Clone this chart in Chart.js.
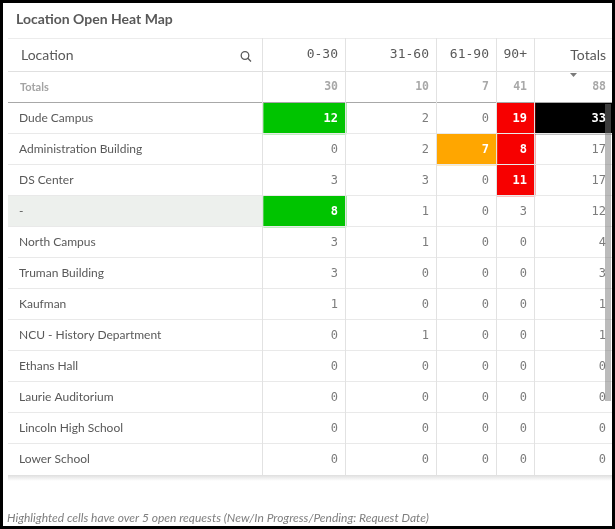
<!DOCTYPE html>
<html lang="en">
<head>
  <meta charset="UTF-8">
  <title>Location Open Heat Map</title>
  <script src="https://cdn.jsdelivr.net/npm/chart.js"></script>
  <style>
    body {
      margin: 0;
      padding: 0;
      background-color: #fff;
    }
    canvas {
      display: block;
    }
  </style>
</head>
<body>

  <canvas id="heat-map" width="615" height="529"></canvas>

  <script>
    var columns = ['0-30', '31-60', '61-90', '90+', 'Totals'];
    var locations = ['Dude Campus', 'Administration Building', 'DS Center', '-', 'North Campus',
      'Truman Building', 'Kaufman', 'NCU - History Department', 'Ethans Hall',
      'Laurie Auditorium', 'Lincoln High School', 'Lower School'];
    var days0to30 = [12, 0, 3, 8, 3, 3, 1, 0, 0, 0, 0, 0];
    var days31to60 = [2, 2, 3, 1, 1, 0, 0, 1, 0, 0, 0, 0];
    var days61to90 = [0, 7, 0, 0, 0, 0, 0, 0, 0, 0, 0, 0];
    var days90plus = [19, 8, 11, 3, 0, 0, 0, 0, 0, 0, 0, 0];
    var rowTotals = [33, 17, 17, 12, 4, 3, 1, 1, 0, 0, 0, 0];
    var columnTotals = [30, 10, 7, 41, 88];

    var series = [days0to30, days31to60, days61to90, days90plus, rowTotals];

    // Look of the table
    var colWidths = [255, 83, 91, 60, 38, 79];   // Location + 5 value columns
    var highlight = [
      { over: 5, color: '#00c400' },
      { over: 5, color: '#ffd400' },
      { over: 5, color: '#ffa600' },
      { over: 5, color: '#f70000' },
      { over: 20, color: '#000000' }
    ];
    var sans = 'Lato, "Open Sans", sans-serif';
    var mono = '"DejaVu Sans Mono", monospace';

    var edges = [0];
    for (var i = 0; i < colWidths.length; i++) edges.push(edges[i] + colWidths[i]);

    var rows = ['Totals'].concat(locations);

    var datasets = [{
      label: 'Location',
      data: rows.map(function () { return [edges[0], edges[1]]; }),
      backgroundColor: function (c) { return rows[c.dataIndex] === '-' ? '#edf0ed' : '#ffffff'; }
    }];
    columns.forEach(function (name, c) {
      var values = [columnTotals[c]].concat(series[c]);
      datasets.push({
        label: name,
        values: values,
        data: rows.map(function () { return [edges[c + 1], edges[c + 2]]; }),
        backgroundColor: function (ctx) {
          var v = values[ctx.dataIndex];
          return ctx.dataIndex > 0 && v > highlight[c].over ? highlight[c].color : 'rgba(0,0,0,0)';
        }
      });
    });
    datasets.forEach(function (d) {
      d.barPercentage = 1;
      d.categoryPercentage = 1;
      d.grouped = false;
      d.borderWidth = 0;
    });

    function text(ctx, str, x, y, font, color, align) {
      ctx.font = font;
      ctx.fillStyle = color;
      ctx.textAlign = align || 'left';
      ctx.textBaseline = 'middle';
      ctx.fillText(str, x, y);
    }

    var tablePlugin = {
      id: 'tablePlugin',
      beforeDraw: function (chart) {
        var ctx = chart.ctx;
        ctx.save();
        ctx.fillStyle = '#fff';
        ctx.fillRect(0, 0, chart.width, chart.height);
        ctx.restore();
      },
      afterDatasetsDraw: function (chart) {
        var ctx = chart.ctx, area = chart.chartArea;
        var xs = chart.scales.x, ys = chart.scales.y;
        var step = area.height / rows.length;
        ctx.save();

        // row separators
        for (var r = 1; r < rows.length; r++) {
          var yy = Math.round(area.top + r * step) - 0.5;
          ctx.strokeStyle = r === 1 ? '#a8a8a8' : '#e9e9e9';
          ctx.lineWidth = 1;
          ctx.beginPath();
          ctx.moveTo(area.left, yy);
          ctx.lineTo(area.right, yy);
          ctx.stroke();
        }
        // header lines
        ctx.strokeStyle = '#ececec';
        ctx.beginPath();
        ctx.moveTo(area.left, 38.5); ctx.lineTo(area.right, 38.5);
        ctx.stroke();
        ctx.strokeStyle = '#e0e0e0';
        ctx.beginPath();
        ctx.moveTo(area.left, area.top - 0.5); ctx.lineTo(area.right, area.top - 0.5);
        ctx.stroke();

        // column separators
        ctx.strokeStyle = '#e2e2e2';
        for (var e = 1; e < edges.length - 1; e++) {
          var xx = Math.round(xs.getPixelForValue(edges[e])) - 0.5;
          ctx.beginPath();
          ctx.moveTo(xx, 38);
          ctx.lineTo(xx, area.bottom);
          ctx.stroke();
        }

        // cell texts
        rows.forEach(function (name, r) {
          var yc = ys.getPixelForValue(r);
          if (r === 0) {
            text(ctx, name, area.left + 12, yc, 'bold 11px ' + sans, '#a3a3a3');
          } else {
            text(ctx, name, area.left + 11, yc, '12px ' + sans, '#595959');
          }
          columns.forEach(function (col, c) {
            var v = chart.data.datasets[c + 1].values[r];
            var right = xs.getPixelForValue(edges[c + 2]) - 8;
            if (r === 0) {
              text(ctx, String(v), right, yc, 'bold 11.5px ' + mono, '#a8a8a8', 'right');
            } else if (v > highlight[c].over) {
              text(ctx, String(v), right, yc, 'bold 12px ' + mono, '#ffffff', 'right');
            } else {
              text(ctx, String(v), right, yc, '12px ' + mono, '#7c7c7c', 'right');
            }
          });
        });

        // header texts
        var yh = 55;
        text(ctx, 'Location', area.left + 13, yh, '14px ' + sans, '#595959');
        columns.forEach(function (col, c) {
          var right = xs.getPixelForValue(edges[c + 2]) - 8;
          var font = col === 'Totals' ? '14px ' + sans : '13px ' + mono;
          text(ctx, col, right, yh, font, '#595959', 'right');
        });

        // search icon
        ctx.strokeStyle = '#595959';
        ctx.lineWidth = 1.3;
        ctx.beginPath();
        ctx.arc(245, 55.5, 3.8, 0, Math.PI * 2);
        ctx.stroke();
        ctx.beginPath();
        ctx.moveTo(247.8, 58.3);
        ctx.lineTo(251, 61.5);
        ctx.stroke();

        // sort marker under Totals
        ctx.fillStyle = '#7a7a7a';
        ctx.beginPath();
        ctx.moveTo(570, 73);
        ctx.lineTo(577, 73);
        ctx.lineTo(573.5, 77);
        ctx.closePath();
        ctx.fill();

        // bottom shadow
        var g = ctx.createLinearGradient(0, area.bottom, 0, area.bottom + 6);
        g.addColorStop(0, 'rgba(0,0,0,0.13)');
        g.addColorStop(1, 'rgba(0,0,0,0)');
        ctx.fillStyle = g;
        ctx.fillRect(area.left, area.bottom, area.right - area.left, 6);

        // scrollbar
        ctx.fillStyle = 'rgba(120,120,120,0.5)';
        ctx.fillRect(605, area.top + step + 1, 6, 297);

        ctx.restore();
      },
      afterDraw: function (chart) {
        var ctx = chart.ctx;
        ctx.save();
        text(ctx, 'Location Open Heat Map', 16, 19, 'bold 14px ' + sans, '#595959');
        text(ctx, 'Highlighted cells have over 5 open requests (New/In Progress/Pending: Request Date)',
          7, 518, 'italic 12px ' + sans, '#7f7f7f');
        ctx.strokeStyle = '#000';
        ctx.lineWidth = 3;
        ctx.strokeRect(1.5, 1.5, chart.width - 3, chart.height - 3);
        ctx.restore();
      }
    };

    var ctxMapa = document.getElementById('heat-map').getContext('2d');
    var heatMap = new Chart(ctxMapa, {
      type: 'bar',
      data: {
        labels: rows,
        datasets: datasets
      },
      options: {
        indexAxis: 'y',
        responsive: false,
        animation: false,
        events: [],
        layout: {
          padding: { left: 8, right: 1, top: 72, bottom: 54 }
        },
        scales: {
          x: { type: 'linear', display: false, min: 0, max: edges[edges.length - 1] },
          y: { display: false }
        },
        plugins: {
          legend: { display: false },
          tooltip: { enabled: false }
        }
      },
      plugins: [tablePlugin]
    });
  </script>

</body>
</html>
